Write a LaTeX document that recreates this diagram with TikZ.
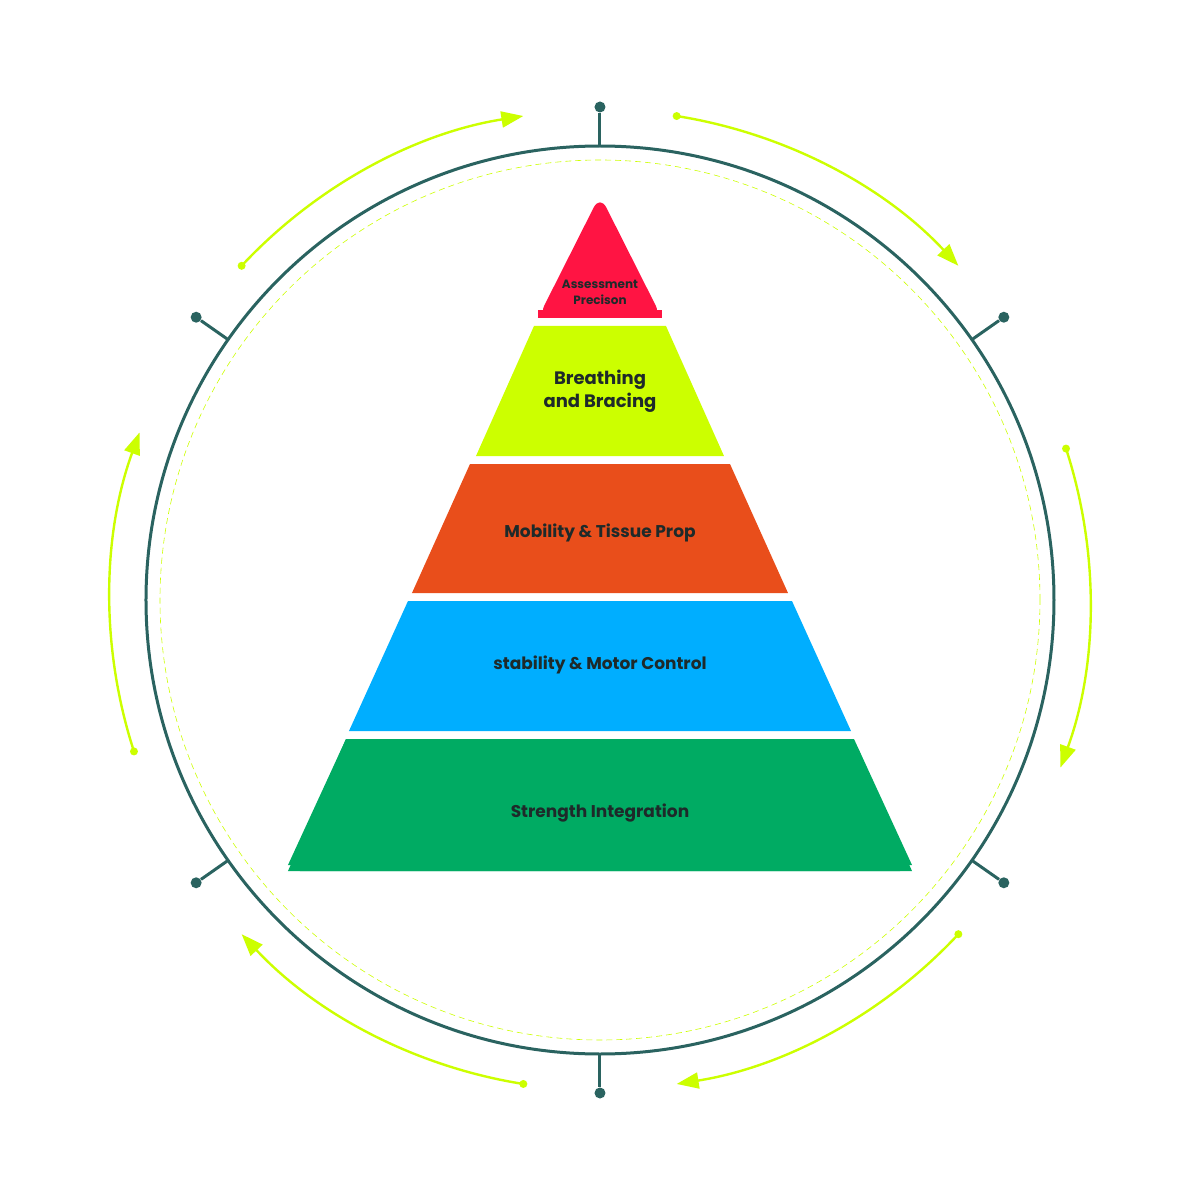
\documentclass[tikz,border=0pt]{standalone}
\usepackage{fontspec}
\setmainfont{Poppins}
\usetikzlibrary{arrows.meta}
\definecolor{teal}{HTML}{2A6360}
\definecolor{lime}{HTML}{CCFF00}
\definecolor{cred}{HTML}{FF1443}
\definecolor{corange}{HTML}{E94E1B}
\definecolor{cblue}{HTML}{00AEFF}
\definecolor{cgreen}{HTML}{00AB63}
\definecolor{txt}{HTML}{1E2A2A}
\begin{document}
\begin{tikzpicture}[x=0.5pt,y=0.5pt,
  lbl/.style={font=\bfseries\fontsize{8.5}{11}\selectfont,text=txt,align=center},
  tick/.style={teal,line width=1.5pt},
  dot/.style={circle,fill=teal,inner sep=0,minimum size=5.5pt},
  ldot/.style={circle,fill=lime,inner sep=0,minimum size=4pt},
  cyc/.style={lime,line width=1.2pt,-{Triangle[length=11pt,width=8pt]}}]
\useasboundingbox (-600,-600) rectangle (600,600);
\node[circle,draw=teal,line width=1.5pt,minimum size=454pt,inner sep=0] (ring) at (0,0) {};
\draw[lime,line width=0.3pt,dash pattern=on 3pt off 2pt] (0,0) circle (440);
% ticks
\foreach \a/\n in {90/t1,35/t2,-35/t3,-90/t4,-145/t5,145/t6}{
  \coordinate (\n a) at (\a:454);
  \node[dot] (\n) at (\a:493) {};
  \draw[tick] (\n a) -- (\n);
}
% cycle arrows
\foreach \s/\e/\n in {81/43/c1,18/-20/c2,-43/-81/c3,-99/-137/c4,-162/-200/c5,137/99/c6}{
  \node[ldot] (\n) at (\s:490) {};
  \draw[cyc] (\n.center) arc[start angle=\s,end angle=\e,radius=490];
}
% pyramid
\fill[cred,rounded corners=7pt] (-62,282) -- (0,405) -- (62,282) -- cycle;
\fill[cred] (-62,282) -- (-20,282) -- (-40,300) -- cycle;
\fill[cred] (-62,282) rectangle (62,290);
\fill[lime] (-66,274) -- (66,274) -- (124,144) -- (-124,144) -- cycle;
\fill[corange] (-130,136) -- (130,136) -- (188,7) -- (-188,7) -- cycle;
\fill[cblue] (-192,-1) -- (192,-1) -- (251,-131) -- (-251,-131) -- cycle;
\fill[cgreen,rounded corners=6pt] (-254,-139) -- (254,-139) [sharp corners] -- (312,-271) -- (-312,-271) -- cycle;
\fill[cgreen] (-254,-139) -- (254,-139) -- (312,-265) -- (-312,-265) -- cycle;
\fill[cgreen,rounded corners=6pt] (-300,-245) -- (300,-245) -- (312,-271) -- (-312,-271) -- cycle;
\node[lbl,font=\bfseries\fontsize{6}{8}\selectfont] (l1) at (0,308) {Assessment\\Precison};
\node[lbl,font=\bfseries\fontsize{9}{11.5}\selectfont] (l2) at (0,209) {Breathing\\and Bracing};
\node[lbl] (l3) at (0,67) {Mobility \& Tissue Prop};
\node[lbl] (l4) at (0,-65) {stability \& Motor Control};
\node[lbl] (l5) at (0,-213) {Strength Integration};
\end{tikzpicture}
\end{document}
